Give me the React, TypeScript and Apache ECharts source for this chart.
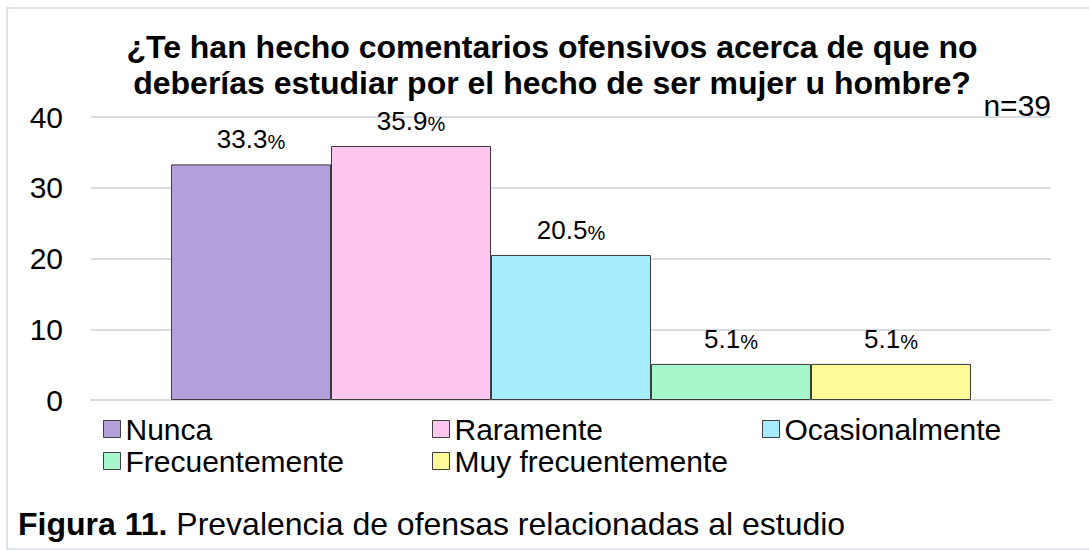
import React, { useEffect, useRef } from "react";
import * as echarts from "echarts";

const categories = ["Nunca", "Raramente", "Ocasionalmente", "Frecuentemente", "Muy frecuentemente"];
const values = [33.3, 35.9, 20.5, 5.1, 5.1];
const barColors = ["#B3A0DB", "#FCC6EE", "#A6ECFC", "#A6F7CC", "#FFFA98"];
const yMin = 0;
const yMax = 40;
const yInterval = 10;
const titleText = "¿Te han hecho comentarios ofensivos acerca de que no\ndeberías estudiar por el hecho de ser mujer u hombre?";
const sampleNote = "n=39";
const captionBold = "Figura 11.";
const captionText = " Prevalencia de ofensas relacionadas al estudio";

const FONT = '"Liberation Sans", Arial, Helvetica, sans-serif';
const legendPos = [
  [103, 414],
  [432, 414],
  [762, 414],
  [103, 446],
  [432, 446],
];

export default function App() {
  const ref = useRef<HTMLDivElement>(null);
  useEffect(() => {
    if (!ref.current) return;
    const chart = echarts.init(ref.current, null, { renderer: "svg" });
    chart.setOption({
      animation: false,
      backgroundColor: "#ffffff",
      title: {
        text: titleText,
        left: 552,
        top: 29,
        padding: 0,
        textAlign: "center",
        textStyle: { fontFamily: FONT, fontSize: 32, fontWeight: "bold", color: "#000", lineHeight: 36 },
      },
      grid: { left: 91, right: 38, top: 117, bottom: 150, containLabel: false },
      xAxis: {
        type: "category",
        data: [""],
        axisLine: { show: true, lineStyle: { color: "#D9DDE3", width: 2 } },
        axisTick: { show: false },
        axisLabel: { show: false },
      },
      yAxis: {
        type: "value",
        min: yMin,
        max: yMax,
        interval: yInterval,
        axisLine: { show: false },
        axisTick: { show: false },
        splitLine: { lineStyle: { color: "#D9DDE3", width: 2 } },
        axisLabel: { fontFamily: FONT, fontSize: 30, color: "#000", margin: 28 },
      },
      legend: categories.map((name, i) => ({
        data: [name],
        left: legendPos[i][0],
        top: legendPos[i][1],
        padding: 0,
        icon: "rect",
        itemWidth: 17,
        itemHeight: 17,
        selectedMode: false,
        itemStyle: { borderColor: "#404040", borderWidth: 1 },
        textStyle: { fontFamily: FONT, fontSize: 30, color: "#000", lineHeight: 30 },
      })),
      series: categories.map((name, i) => ({
        type: "bar",
        name,
        data: [values[i]],
        barGap: "0%",
        barCategoryGap: "16.67%",
        itemStyle: { color: barColors[i], borderColor: "#3A3A3A", borderWidth: 1 },
        label: {
          show: true,
          position: "top",
          distance: 12,
          formatter: (p: any) => `{n|${Number(p.value).toFixed(1)}}{p|%}`,
          rich: {
            n: { fontFamily: FONT, fontSize: 26, color: "#000", lineHeight: 28, verticalAlign: "bottom" },
            p: { fontFamily: FONT, fontSize: 20, color: "#000", lineHeight: 28, verticalAlign: "bottom" },
          },
        },
      })),
      graphic: [
        {
          type: "rect",
          shape: { x: 7, y: 8, width: 1090, height: 541 },
          style: { fill: "none", stroke: "#E1E4E8", lineWidth: 2 },
          silent: true,
        },
        {
          type: "text",
          x: 1051,
          y: 105,
          z: 10,
          style: {
            text: sampleNote,
            fontFamily: FONT,
            fontSize: 30,
            fill: "#000",
            textAlign: "right",
            textVerticalAlign: "middle",
          },
        },
        {
          type: "text",
          x: 18,
          y: 524,
          style: {
            text: `{b|${captionBold}}{r|${captionText}}`,
            textVerticalAlign: "middle",
            rich: {
              b: { fontFamily: FONT, fontSize: 32, fontWeight: "bold", fill: "#000" },
              r: { fontFamily: FONT, fontSize: 32, fill: "#000" },
            },
          },
        },
      ],
    });
    return () => chart.dispose();
  }, []);
  return (
    <div
      ref={ref}
      style={{ position: "absolute", left: 0, top: 0, width: 1089, height: 550 }}
    />
  );
}
